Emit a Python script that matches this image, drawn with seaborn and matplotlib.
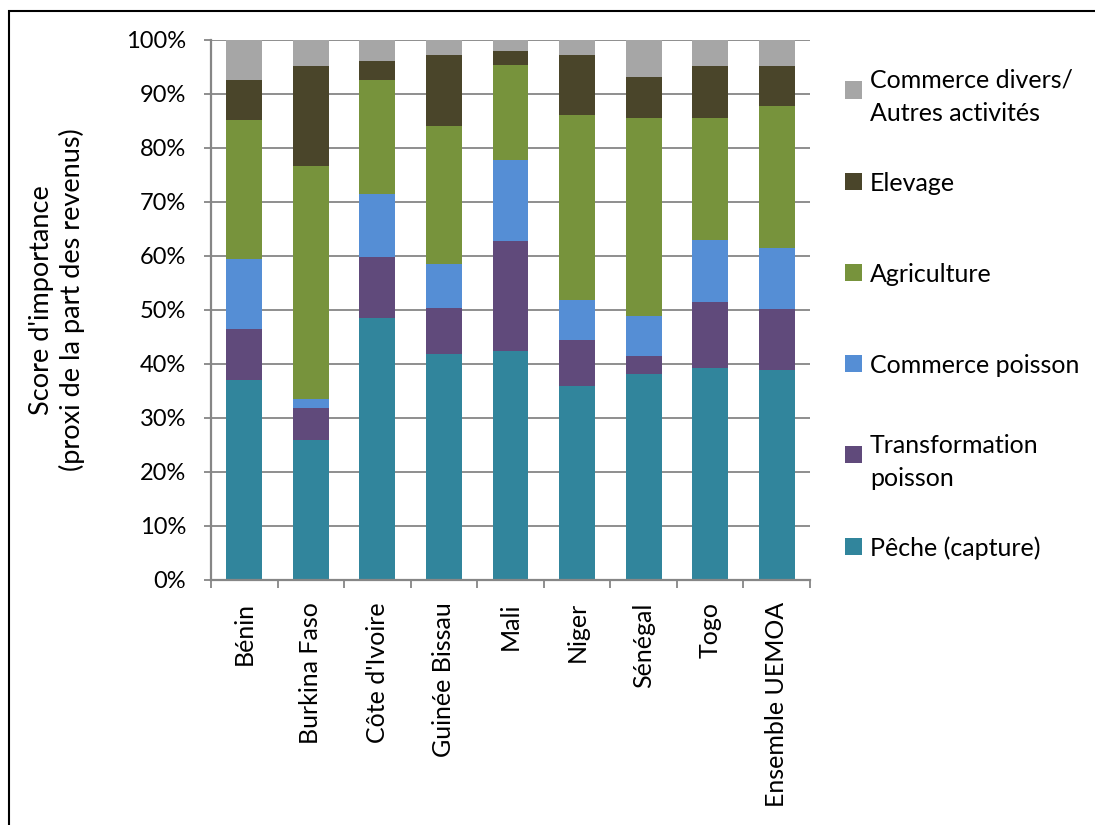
import matplotlib
matplotlib.use("Agg")
import matplotlib.pyplot as plt
from matplotlib.patches import Rectangle
import pandas as pd
import seaborn as sns

# Countries / groupings on the x axis
pays = ["Bénin", "Burkina Faso", "Côte d'Ivoire", "Guinée Bissau", "Mali",
        "Niger", "Sénégal", "Togo", "Ensemble UEMOA"]

# Share of income by activity (%), stacked from bottom to top
peche = [37.0, 25.9, 48.5, 41.8, 42.5, 35.9, 38.1, 39.2, 38.8]
transformation = [9.5, 5.9, 11.4, 8.5, 20.3, 8.5, 3.3, 12.2, 11.4]
commerce_poisson = [13.0, 1.8, 11.5, 8.2, 15.0, 7.5, 7.5, 11.5, 11.2]
agriculture = [25.6, 43.1, 21.1, 25.5, 17.6, 34.3, 36.6, 22.6, 26.3]
elevage = [7.4, 18.4, 3.7, 13.3, 2.6, 11.1, 7.7, 9.6, 7.4]
commerce_divers = [7.5, 4.9, 3.8, 2.7, 2.0, 2.7, 6.8, 4.9, 4.9]

activites = ["Pêche (capture)", "Transformation\npoisson", "Commerce poisson",
             "Agriculture", "Elevage", "Commerce divers/\nAutres activités"]
couleurs = ["#31859C", "#604A7B", "#558ED5", "#77933C", "#4A452A", "#A6A6A6"]

yticks = list(range(0, 101, 10))
ytick_labels = [f"{v}%" for v in yticks]

sns.set_theme(style="white")
plt.rcParams["font.family"] = ["Lato", "DejaVu Sans"]
plt.rcParams["text.color"] = "black"

keys = ["peche", "transformation", "commerce_poisson", "agriculture", "elevage", "commerce_divers"]
df = pd.DataFrame({"pays": pays, "peche": peche, "transformation": transformation,
                   "commerce_poisson": commerce_poisson, "agriculture": agriculture,
                   "elevage": elevage, "commerce_divers": commerce_divers})
cum = df[keys].cumsum(axis=1)
cum.insert(0, "pays", df["pays"])

fig = plt.figure(figsize=(10.95, 8.25), dpi=100)
ax = fig.add_axes([211 / 1095, 1 - 580 / 825, 599 / 1095, 540 / 825])

# Draw cumulative totals from the top layer down so each lower layer covers the one above
for key, color in reversed(list(zip(keys, couleurs))):
    sns.barplot(data=cum, x="pays", y=key, order=pays, color=color, saturation=1,
                width=0.54, errorbar=None, edgecolor="none", linewidth=0, ax=ax)

fs_ticks = 17
fs_text = 18
grey = "#868686"
ax.set_xlim(-0.5, len(pays) - 0.5)
ax.set_ylim(0, 100)
ax.set_yticks(yticks)
ax.set_yticklabels(ytick_labels, fontsize=fs_ticks, color="black")
ax.set_xticks(range(len(pays)))
ax.set_xticklabels(pays, rotation=90, fontsize=fs_text, color="black")
ax.set_xticks([i - 0.5 for i in range(len(pays) + 1)], minor=True)
ax.set_xlabel("")
ax.set_ylabel("")

ax.yaxis.grid(True, color=grey, linewidth=1.3)
ax.xaxis.grid(False)
ax.set_axisbelow(True)
for side in ["top", "right"]:
    ax.spines[side].set_visible(False)
for side in ["left", "bottom"]:
    ax.spines[side].set_color(grey)
    ax.spines[side].set_linewidth(1.6)

ax.tick_params(axis="y", which="major", length=5, width=1.3, color=grey, pad=13, left=True)
ax.tick_params(axis="x", which="major", length=0, pad=16, bottom=True)
ax.tick_params(axis="x", which="minor", length=6, width=1.3, color=grey, bottom=True)

fig.text(57 / 1095, 1 - 300 / 825, "Score d'importance\n(proxi de la part des revenus)",
         rotation=90, ha="center", va="center", fontsize=19.5, linespacing=1.25,
         multialignment="center")

# Legend, top entry is the top of the stack
top_y = 90
step = 91.2
for i, (label, color) in enumerate(zip(reversed(activites), reversed(couleurs))):
    yc = top_y + i * step
    fig.add_artist(Rectangle((845 / 1095, 1 - (yc + 8.5) / 825), 17 / 1095, 17 / 825,
                             transform=fig.transFigure, facecolor=color, edgecolor="none"))
    fig.text(870 / 1095, 1 - yc / 825, label, ha="left", va="center_baseline",
             fontsize=fs_text, linespacing=1.55)

# Outer frame
fig.add_artist(Rectangle((9 / 1095, -0.1), 1.2, 1 - 11 / 825 + 0.1,
                         transform=fig.transFigure, fill=False, edgecolor="black", linewidth=1.5))

fig.savefig("out.png", dpi=100)
